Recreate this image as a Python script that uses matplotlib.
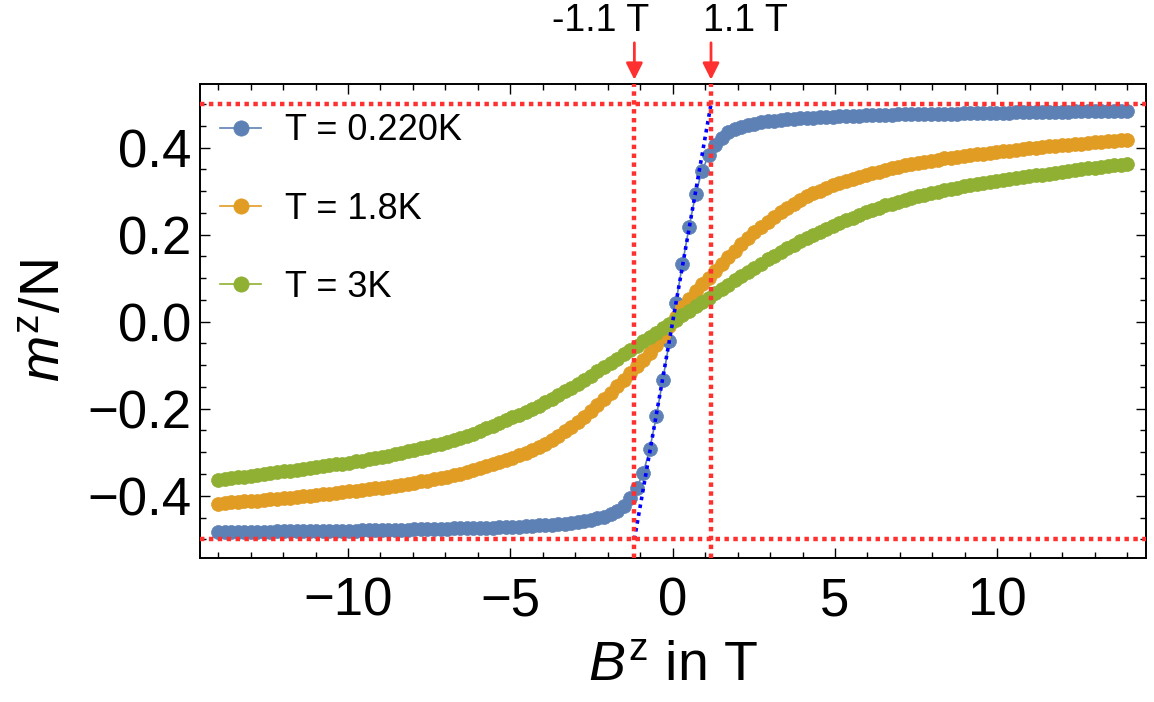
import numpy as np
import matplotlib
matplotlib.use('Agg')
import matplotlib.pyplot as plt
from matplotlib.ticker import MultipleLocator, FuncFormatter

plt.rcParams['font.family'] = ['Liberation Sans', 'DejaVu Sans']
plt.rcParams['mathtext.fontset'] = 'custom'
plt.rcParams['mathtext.rm'] = 'Liberation Sans'
plt.rcParams['mathtext.it'] = 'Liberation Sans:italic'

# field grid: 140 points from -14 T to 14 T
field = np.linspace(-14, 14, 140)

# m^z/N for the positive half (B > 0), curves are odd in B
m_pos_022 = [0.044, 0.133, 0.217, 0.293, 0.347, 0.382, 0.405, 0.423, 0.435, 0.443,
             0.448, 0.452, 0.455, 0.458, 0.460, 0.462, 0.464, 0.465, 0.466, 0.467,
             0.468, 0.469, 0.470, 0.471, 0.471, 0.472, 0.472, 0.473, 0.473, 0.474,
             0.474, 0.475, 0.475, 0.475, 0.476, 0.476, 0.476, 0.477, 0.477, 0.477,
             0.478, 0.478, 0.478, 0.478, 0.479, 0.479, 0.479, 0.479, 0.480, 0.480,
             0.480, 0.480, 0.481, 0.481, 0.481, 0.481, 0.482, 0.482, 0.482, 0.482,
             0.482, 0.483, 0.483, 0.483, 0.483, 0.483, 0.484, 0.484, 0.484, 0.484]
m_pos_18 = [0.011, 0.033, 0.053, 0.071, 0.087, 0.101, 0.117, 0.133, 0.148, 0.163,
            0.178, 0.192, 0.205, 0.218, 0.230, 0.241, 0.252, 0.262, 0.271, 0.280,
            0.288, 0.295, 0.301, 0.307, 0.313, 0.318, 0.323, 0.328, 0.332, 0.337,
            0.341, 0.345, 0.349, 0.352, 0.356, 0.359, 0.362, 0.365, 0.367, 0.370,
            0.372, 0.375, 0.377, 0.379, 0.381, 0.383, 0.385, 0.386, 0.388, 0.390,
            0.391, 0.393, 0.395, 0.396, 0.398, 0.400, 0.401, 0.403, 0.404, 0.405,
            0.407, 0.408, 0.409, 0.411, 0.412, 0.413, 0.414, 0.415, 0.417, 0.418]
m_pos_3 = [0.005, 0.015, 0.025, 0.035, 0.045, 0.055, 0.065, 0.075, 0.085, 0.095,
           0.104, 0.114, 0.124, 0.133, 0.143, 0.152, 0.160, 0.169, 0.177, 0.185,
           0.193, 0.200, 0.207, 0.214, 0.220, 0.227, 0.233, 0.239, 0.245, 0.251,
           0.257, 0.262, 0.267, 0.271, 0.276, 0.280, 0.284, 0.288, 0.291, 0.295,
           0.298, 0.302, 0.305, 0.308, 0.311, 0.313, 0.316, 0.319, 0.321, 0.324,
           0.326, 0.328, 0.330, 0.332, 0.334, 0.336, 0.338, 0.340, 0.342, 0.344,
           0.346, 0.348, 0.350, 0.352, 0.354, 0.356, 0.358, 0.360, 0.361, 0.363]

labels = ['T = 0.220K', 'T = 1.8K', 'T = 3K']
colors = ['#5e81b5', '#e19c24', '#8fb032']

# linear fit through the low-field part of the 0.220K curve
fit_B = [-1.18, 1.18]
fit_m = [-0.5, 0.5]

# guide lines
crit_B = [-1.18, 1.18]
crit_labels = ['-1.1 T', '1.1 T']
sat_m = [-0.5, 0.5]
red = '#ff3030'


def full_curve(half):
    half = np.array(half)
    return np.concatenate([-half[::-1], half])


fig = plt.figure(figsize=(11.54, 7.02), dpi=100)
ax = fig.add_axes([0.1733, 0.2051, 0.8198, 0.6752])

for half, c, lab in zip([m_pos_022, m_pos_18, m_pos_3], colors, labels):
    ax.plot(field, full_curve(half), '-', color=c, lw=1.2, marker='o', ms=10,
            mec=c, mew=0.5, label=lab, zorder=2)

ax.plot(fit_B, fit_m, color='#0000ff', lw=2.6, linestyle=(0, (1, 1.2)),
        dash_capstyle='butt', zorder=4)

for m in sat_m:
    ax.axhline(m, color=red, lw=3.2, linestyle=(0, (1, 1)), dash_capstyle='butt', zorder=5)
for b in crit_B:
    ax.axvline(b, color=red, lw=3.2, linestyle=(0, (1, 1)), dash_capstyle='butt', zorder=5)

# arrows and labels above the frame
trans = ax.get_xaxis_transform()
for b, lab, dx in zip(crit_B, crit_labels, [-1.05, 1.07]):
    ax.annotate('', xy=(b, 1.009), xytext=(b, 1.087), xycoords=trans, textcoords=trans,
                arrowprops=dict(arrowstyle='-|>,head_length=0.5,head_width=0.25',
                                color=red, lw=2, shrinkA=0, shrinkB=0,
                                mutation_scale=20),
                annotation_clip=False)
    ax.text(b + dx, 1.133, lab, transform=trans, ha='center', va='center', fontsize=27)

ax.set_xlim(-14.56, 14.58)
ax.set_ylim(-0.543, 0.546)

ax.xaxis.set_major_locator(MultipleLocator(5))
ax.xaxis.set_minor_locator(MultipleLocator(1))
ax.yaxis.set_major_locator(MultipleLocator(0.2))
ax.yaxis.set_minor_locator(MultipleLocator(0.05))
ax.yaxis.set_major_formatter(FuncFormatter(lambda v, p: f'{v:.1f}'.replace('-', '\u2212')
                                           if abs(v) > 1e-9 else '0.0'))

ax.tick_params(which='both', direction='in', top=True, right=True, width=1.0)
ax.tick_params(which='major', length=7.2, labelsize=38)
ax.tick_params(which='minor', length=4.3)
ax.tick_params(axis='x', pad=13)
ax.tick_params(axis='y', pad=6)
for s in ax.spines.values():
    s.set_linewidth(1.4)

ax.set_xlabel(r'$B^{\mathrm{z}}$ in T', fontsize=40, labelpad=10)
ax.set_ylabel(r'$m^{\mathrm{z}}$/N', fontsize=40, labelpad=12)

ax.legend(loc='upper left', bbox_to_anchor=(0.021, 0.938), frameon=False,
          fontsize=26, handlelength=1.15, handletextpad=0.65, labelspacing=1.2,
          borderpad=0, borderaxespad=0, markerscale=1.1)

fig.savefig('out.png', dpi=100)
